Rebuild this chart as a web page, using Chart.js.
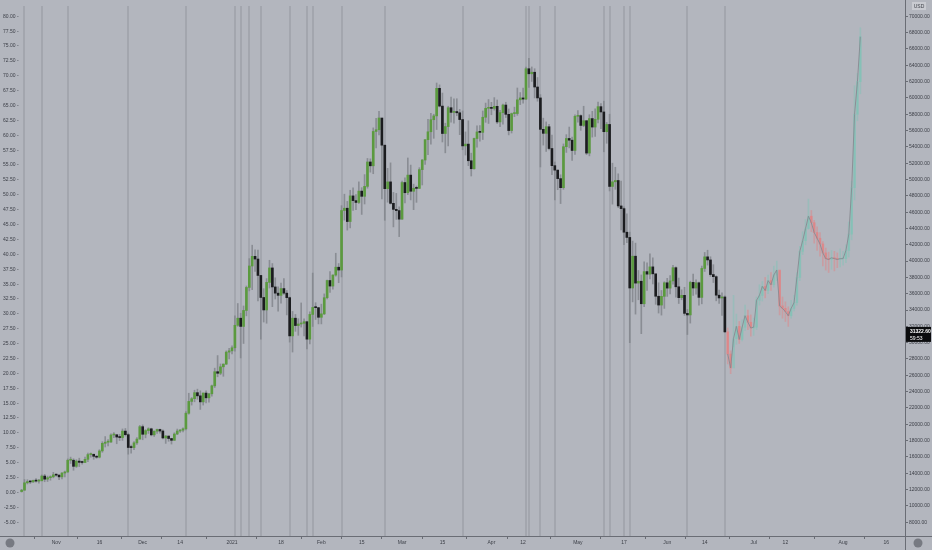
<!DOCTYPE html>
<html>
<head>
<meta charset="utf-8">
<script src="https://cdn.jsdelivr.net/npm/chart.js@4.4.0/dist/chart.umd.min.js"></script>
<style>
  html, body { margin: 0; padding: 0; background: #b3b6be; }
  #wrap { width: 932px; height: 550px; }
</style>
</head>
<body>
<div id="wrap"><canvas id="chart" width="932" height="550"></canvas></div>
<script>
// DATA (prices in thousands of USD, daily candles)
const firstDay = '2020-10-13';
const lastDay = '2021-08-22';

const btcStart = '2020-10-20';
const btcFirstOpen = 11.75;
const btcClose = [
  11.92,12.82,12.97,12.93,13.11,13.03,13.07,13.65,13.27,13.45,13.56,13.80,
  13.76,13.55,14.02,14.15,15.59,15.59,14.84,15.48,15.33,15.31,15.70,16.28,16.32,16.07,15.96,16.73,17.66,17.80,17.82,18.68,18.71,18.43,18.37,19.16,18.72,17.15,17.14,17.72,18.18,19.70,
  18.77,19.22,19.44,18.70,19.15,19.36,19.17,18.32,18.55,18.25,18.03,18.80,19.17,19.27,19.44,21.35,22.80,23.13,23.87,23.48,22.74,23.82,23.24,23.73,24.71,26.44,26.25,27.04,27.37,28.84,29.00,
  29.37,32.13,33.00,31.99,33.95,36.77,39.40,40.58,40.25,38.24,35.54,34.01,37.39,39.16,36.83,36.07,35.80,36.63,36.07,35.52,30.83,33.00,32.10,32.29,32.37,32.57,30.43,33.46,34.32,34.29,33.11,
  33.53,35.51,37.62,36.94,38.29,39.25,38.90,46.20,46.48,44.85,47.99,47.41,47.19,48.58,47.94,49.16,52.15,51.68,55.89,56.10,57.54,54.21,48.88,49.71,47.08,46.34,46.19,45.14,
  49.63,48.38,50.54,48.56,48.93,48.91,51.21,52.39,54.88,55.85,57.33,57.80,61.18,59.00,55.64,56.49,58.80,58.23,58.33,58.18,57.35,54.12,54.34,52.30,51.32,55.03,55.83,55.78,57.63,58.73,58.74,
  58.72,58.97,57.06,58.20,59.13,57.99,56.00,58.08,58.09,59.77,60.00,59.86,63.58,62.96,63.15,61.34,60.00,56.15,55.66,56.47,53.80,51.70,51.15,50.11,49.00,54.02,55.03,54.82,53.56,57.75,
  57.83,56.63,57.21,53.24,57.47,56.43,57.38,58.93,58.28,55.86,56.75,49.15,49.72,49.88,46.76,46.43,43.54,42.90,36.70,40.60,37.30,37.53,34.77,38.71,38.40,39.29,38.44,35.69,34.61,35.68,37.34,
  36.69,37.57,39.19,36.85,35.52,35.80,33.59,33.40,37.39,36.70,37.34,35.55,39.10,40.52,40.14,38.35,38.09,35.82,35.48,35.60,31.32
];
const btcHigh = [
  12.02,13.22,13.20,13.03,13.16,13.35,13.25,13.79,13.86,13.64,13.68,14.10,
  13.90,13.82,14.07,14.27,15.75,15.97,15.77,15.65,15.84,15.48,15.97,16.48,16.48,16.33,16.14,16.88,17.86,18.49,18.13,18.81,18.97,18.70,18.77,19.42,19.48,18.92,17.46,17.88,18.35,19.86,
  19.92,19.34,19.57,19.52,19.18,19.42,19.42,19.30,18.63,18.56,18.28,18.95,19.41,19.35,19.57,21.56,23.80,23.28,24.17,24.30,24.10,23.84,24.10,23.79,24.79,26.87,28.42,27.39,27.40,28.99,29.30,
  29.60,33.30,34.80,33.60,34.50,36.94,40.30,41.95,41.38,41.35,38.26,36.62,37.85,40.10,39.70,37.95,36.85,37.30,37.85,36.40,35.60,33.83,33.46,32.94,34.87,32.92,32.56,33.78,38.53,34.90,34.33,
  34.72,35.98,37.66,38.70,38.31,40.96,39.70,46.79,48.20,47.32,48.68,48.99,48.15,49.71,49.00,50.60,52.58,52.53,56.33,57.50,58.35,57.50,54.20,51.37,52.04,48.42,48.30,46.65,
  49.82,50.20,52.64,51.77,49.43,49.20,51.45,52.45,54.90,57.39,58.11,58.00,61.83,61.60,60.60,56.90,58.98,60.10,59.90,59.90,58.60,58.40,55.83,57.20,53.23,55.08,56.58,56.60,58.40,59.37,59.80,
  59.46,60.04,59.75,58.49,59.25,59.47,58.65,58.15,58.87,61.22,60.66,61.20,63.77,64.85,63.80,63.58,62.50,60.41,57.52,57.06,56.76,55.45,52.15,51.17,50.58,54.36,55.50,56.43,55.20,57.93,
  58.45,57.93,58.98,57.20,57.94,58.36,58.65,59.50,59.30,59.60,57.00,58.00,52.00,51.50,50.70,49.80,46.65,45.80,43.55,42.45,42.20,38.85,38.30,39.92,39.80,40.90,40.40,38.00,37.34,36.40,37.47,
  37.89,38.23,39.48,39.29,37.92,36.48,36.79,34.07,37.53,38.40,37.69,37.44,39.39,41.06,41.33,40.53,39.56,38.20,36.46,36.10,35.75
];
const btcLow = [
  11.68,11.90,12.68,12.73,12.88,12.90,12.78,13.06,12.95,12.98,13.14,13.43,
  13.62,13.20,13.29,13.53,14.09,15.19,14.36,14.70,14.81,15.10,15.29,15.42,15.96,15.70,15.82,15.87,16.56,17.21,17.33,17.76,18.36,17.61,18.00,18.02,18.56,16.33,16.44,16.87,17.52,18.18,
  18.10,18.33,18.87,18.57,18.50,18.86,18.90,18.20,17.65,17.91,17.57,18.02,18.72,19.00,19.05,19.29,21.23,22.35,22.75,23.06,21.82,22.35,22.60,22.70,23.43,24.50,25.82,26.07,25.88,27.32,28.00,
  28.62,28.95,32.00,28.13,29.90,33.29,36.35,36.50,38.72,35.11,30.42,32.53,32.38,36.70,34.41,35.35,33.85,34.85,35.90,33.40,30.07,28.85,31.39,30.90,31.91,30.84,29.24,29.84,31.99,32.84,32.30,
  32.30,33.43,35.36,36.16,36.57,38.15,37.35,38.06,45.02,43.80,44.07,46.20,46.30,47.06,45.72,47.00,48.94,50.90,50.71,53.86,55.48,47.62,45.00,47.22,46.99,44.19,45.11,43.00,
  45.12,47.13,48.14,47.50,46.30,47.20,48.92,49.33,51.85,53.05,54.34,55.05,56.13,58.90,54.60,53.27,54.12,57.02,56.90,57.82,55.50,53.65,53.00,51.70,50.43,51.28,53.96,54.70,54.90,57.01,56.87,
  57.94,58.50,56.86,56.48,56.79,57.60,55.47,55.70,57.70,57.87,59.18,59.37,59.79,61.30,62.02,60.00,59.60,51.54,54.22,53.44,53.62,50.58,47.50,48.75,47.05,48.80,53.32,53.88,52.33,53.07,
  57.03,56.03,56.48,53.05,52.90,55.20,55.27,56.95,56.24,53.40,54.44,48.60,46.98,48.80,46.55,43.83,42.00,42.25,30.00,35.00,33.50,35.26,31.10,34.40,36.40,37.80,37.20,34.70,33.63,33.38,34.20,
  35.67,35.98,37.17,35.59,34.80,35.26,33.35,31.00,32.40,35.79,35.94,34.60,34.76,38.73,39.51,38.12,37.37,35.13,34.82,33.35,31.25
];

// projected path after the last candle
const projStart = '2021-06-22';
const projClose = [
  28.6,26.9,30.5,32.0,30.4,31.9,33.3,32.5,31.8,
  31.9,35.2,35.8,36.9,36.4,37.6,37.1,38.3,38.9,34.5,34.2,33.8,33.3,34.2,34.9,38.0,41.2,42.5,44.0,45.5,44.7,43.5,42.8,42.1,41.0,40.3,40.2,40.4,40.3,40.2,40.3,
  40.3,41.3,43.3,49.0,58.0,62.0,67.5
];
const projHigh = [
  31.8,29.0,35.8,33.5,32.6,32.8,34.6,34.0,33.4,
  33.0,35.6,37.1,37.5,38.0,38.3,38.6,39.4,40.0,38.8,35.6,35.0,34.4,35.2,35.8,38.6,41.8,43.6,45.1,47.6,46.2,45.0,44.2,43.5,42.4,41.6,41.1,41.3,41.2,41.0,41.5,
  41.2,42.0,44.8,49.8,61.5,63.0,68.6
];
const projLow = [
  27.4,26.2,29.5,29.8,29.9,30.2,31.5,31.6,30.8,
  30.9,31.6,34.6,35.1,35.5,36.0,36.4,36.8,37.6,33.4,33.0,32.6,32.0,33.0,33.9,34.6,37.6,40.8,42.0,43.9,43.6,42.2,41.3,40.6,39.4,38.9,38.6,39.0,38.8,39.2,39.3,
  39.5,39.8,40.5,42.6,47.5,57.2,60.5
];

const markerDays = ['2020-10-21','2020-10-27','2020-11-05','2020-11-26','2020-12-16','2021-01-02','2021-01-04',
  '2021-01-07','2021-01-11','2021-01-21','2021-01-27','2021-01-29','2021-02-08','2021-02-23','2021-03-22',
  '2021-04-13','2021-04-14','2021-04-18','2021-04-23','2021-05-10','2021-05-12','2021-05-17','2021-05-19',
  '2021-06-08','2021-06-21'];

const timeTicks = [
  ['2020-11-01','Nov'],['2020-11-16','16'],['2020-12-01','Dec'],['2020-12-14','14'],['2021-01-01','2021'],
  ['2021-01-18','18'],['2021-02-01','Feb'],['2021-02-15','15'],['2021-03-01','Mar'],['2021-03-15','15'],
  ['2021-04-01','Apr'],['2021-04-12','12'],['2021-05-01','May'],['2021-05-17','17'],['2021-06-01','Jun'],
  ['2021-06-14','14'],['2021-07-01','Jul'],['2021-07-12','12'],['2021-08-01','Aug'],['2021-08-16','16']
];
const leftTicks = [];
for (let v = -5; v <= 80; v += 2.5) leftTicks.push(v);
const rightTicks = [];
for (let v = 8; v <= 70; v += 2) rightTicks.push(v);

const lastPrice = '31322.60';
const countdown = '59:53';

// SCALE RELATION between left (points) and right (USD) axes
const usdMin = 6.30, usdMax = 71.27;
const usdAtZero = 11.636, usdPerPoint = 0.7297;

// HELPERS
const DAY = 86400000;
function dayIndex(iso) {
  return Math.round((Date.parse(iso) - Date.parse(firstDay)) / DAY);
}
const days = [];
for (let t = Date.parse(firstDay); t <= Date.parse(lastDay); t += DAY) {
  days.push(new Date(t).toISOString().slice(0, 10));
}

function buildCandles(start, firstOpen, close, high, low, upColor, downColor) {
  const wick = days.map(() => null);
  const body = days.map(() => null);
  const wickColors = days.map(() => 'transparent');
  const bodyColors = days.map(() => 'transparent');
  const line = days.map(() => null);
  const off = dayIndex(start);
  let open = firstOpen;
  close.forEach(function (c, i) {
    const idx = off + i;
    wick[idx] = [low[i], high[i]];
    body[idx] = [open, c];
    line[idx] = c;
    const up = c >= open;
    bodyColors[idx] = up ? upColor.body : downColor.body;
    wickColors[idx] = up ? upColor.wick : downColor.wick;
    open = c;
  });
  return {wick, body, wickColors, bodyColors, line};
}

const main = buildCandles(btcStart, btcFirstOpen, btcClose, btcHigh, btcLow,
  {body: '#5b9a3f', wick: 'rgba(128,131,138,0.8)'},
  {body: '#1b1c1f', wick: 'rgba(128,131,138,0.8)'});
const proj = buildCandles(projStart, btcClose[btcClose.length - 1], projClose, projHigh, projLow,
  {body: 'rgba(110,200,180,0.45)', wick: 'rgba(110,200,180,0.35)'},
  {body: 'rgba(235,120,120,0.6)', wick: 'rgba(235,120,120,0.4)'});

const textColor = '#3c3f47';
const axisColor = '#6a6d75';
const fontFamily = "'Liberation Sans', Arial, sans-serif";
const font = {family: fontFamily, size: 5};

// PLUGINS
const background = {
  id: 'background',
  beforeDraw(chart) {
    const c = chart.ctx;
    c.save();
    c.fillStyle = '#b3b6be';
    c.fillRect(0, 0, chart.width, chart.height);
    c.restore();
  }
};

const markers = {
  id: 'markers',
  beforeDatasetsDraw(chart) {
    const c = chart.ctx, a = chart.chartArea, x = chart.scales.x;
    c.save();
    markerDays.forEach(function (d) {
      const px = Math.round(x.getPixelForValue(dayIndex(d)));
      c.strokeStyle = 'rgba(150,153,160,0.7)';
      c.lineWidth = 1.5;
      c.beginPath();
      c.moveTo(px, a.top);
      c.lineTo(px, a.bottom);
      c.stroke();
    });
    c.restore();
  }
};

const overlay = {
  id: 'overlay',
  afterDraw(chart) {
    const c = chart.ctx, a = chart.chartArea, y = chart.scales.y;
    c.save();
    // border lines
    c.strokeStyle = axisColor;
    c.lineWidth = 1;
    c.beginPath();
    c.moveTo(0, a.bottom + 0.5);
    c.lineTo(chart.width, a.bottom + 0.5);
    c.stroke();
    c.beginPath();
    c.moveTo(a.right + 0.5, 0);
    c.lineTo(a.right + 0.5, chart.height);
    c.stroke();

    // USD badge
    c.fillStyle = '#c9cbd1';
    c.fillRect(a.right + 7, 2, 14, 8);
    c.fillStyle = textColor;
    c.font = '5px ' + fontFamily;
    c.textAlign = 'center';
    c.textBaseline = 'middle';
    c.fillText('USD', a.right + 14, 6.5);

    // last price label
    const py = y.getPixelForValue(btcClose[btcClose.length - 1]);
    c.fillStyle = '#0b0c0e';
    c.fillRect(a.right + 1, py - 5, chart.width - a.right - 2, 15);
    c.fillStyle = '#ffffff';
    c.font = 'bold 5px ' + fontFamily;
    c.textAlign = 'left';
    c.fillText(lastPrice, a.right + 5, py);
    c.font = '5px ' + fontFamily;
    c.fillText(countdown, a.right + 5, py + 6.5);

    // corner buttons
    c.fillStyle = '#777a82';
    c.beginPath();
    c.arc(10, a.bottom + 7, 4.5, 0, Math.PI * 2);
    c.fill();
    c.beginPath();
    c.arc(918, a.bottom + 7, 4.5, 0, Math.PI * 2);
    c.fill();
    c.restore();
  }
};

// DRAW CHART
new Chart(document.getElementById('chart'), {
  type: 'bar',
  data: {
    labels: days,
    datasets: [
      {data: main.wick, backgroundColor: main.wickColors, barThickness: 1, grouped: false, yAxisID: 'y', order: 5},
      {data: main.body, backgroundColor: main.bodyColors, barThickness: 2, minBarLength: 1, grouped: false, yAxisID: 'y', order: 4},
      {data: proj.wick, backgroundColor: proj.wickColors, barThickness: 1, grouped: false, yAxisID: 'y', order: 3},
      {data: proj.body, backgroundColor: proj.bodyColors, barThickness: 2, minBarLength: 1, grouped: false, yAxisID: 'y', order: 2},
      {type: 'line', data: proj.line, borderColor: 'rgba(135,138,145,0.9)', borderWidth: 1,
        pointRadius: 0, spanGaps: false, yAxisID: 'y', order: 1}
    ]
  },
  options: {
    responsive: false,
    animation: false,
    layout: {padding: 0},
    plugins: {legend: {display: false}, tooltip: {enabled: false}},
    scales: {
      x: {
        type: 'category',
        offset: true,
        grid: {drawOnChartArea: false, drawTicks: true, tickLength: 3, color: axisColor},
        border: {display: false},
        ticks: {
          autoSkip: false, maxRotation: 0, padding: 1, font: font, color: textColor,
          callback: function (v) {
            const t = timeTicks.find(tt => dayIndex(tt[0]) === v);
            return t ? t[1] : null;
          }
        },
        afterBuildTicks: function (scale) {
          scale.ticks = timeTicks.map(t => ({value: dayIndex(t[0])}));
        },
        afterFit: function (scale) { scale.height = 14; }
      },
      y: {
        position: 'right',
        min: usdMin,
        max: usdMax,
        grid: {drawOnChartArea: false, drawTicks: true, tickLength: 3, color: axisColor},
        border: {display: false},
        ticks: {
          padding: 1, font: font, color: textColor,
          callback: v => (v * 1000).toFixed(2)
        },
        afterBuildTicks: function (scale) {
          scale.ticks = rightTicks.map(v => ({value: v}));
        },
        afterFit: function (scale) { scale.width = 27; }
      },
      yL: {
        position: 'left',
        min: (usdMin - usdAtZero) / usdPerPoint,
        max: (usdMax - usdAtZero) / usdPerPoint,
        grid: {display: false, drawTicks: false},
        border: {display: false},
        ticks: {
          mirror: true, crossAlign: 'far', padding: 3, font: font, color: textColor,
          callback: v => v.toFixed(2) + ' -'
        },
        afterBuildTicks: function (scale) {
          scale.ticks = leftTicks.map(v => ({value: v}));
        },
        afterFit: function (scale) { scale.width = 0; }
      }
    }
  },
  plugins: [background, markers, overlay]
});
</script>
</body>
</html>
